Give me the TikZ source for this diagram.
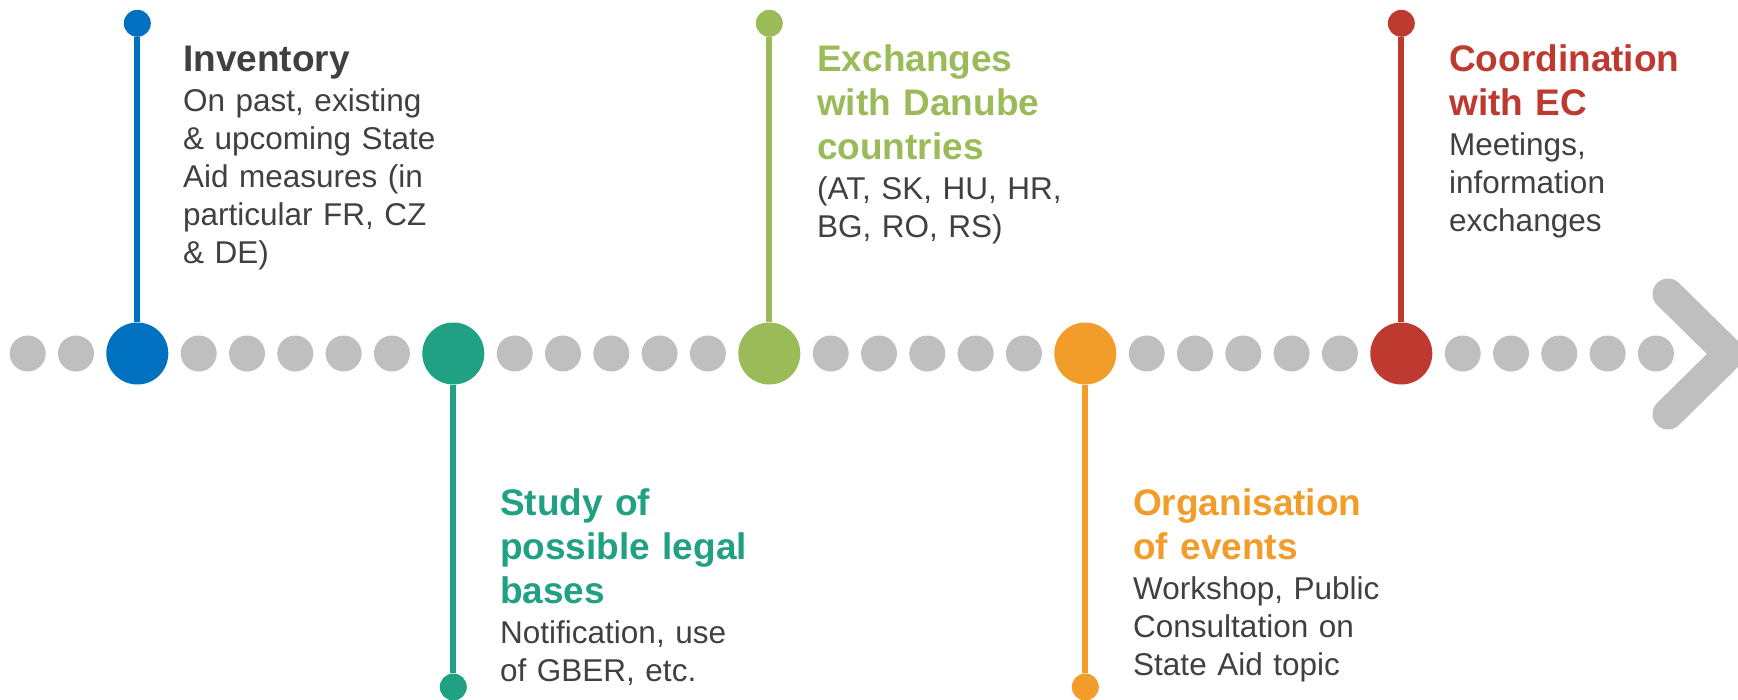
\documentclass[tikz,border=0pt]{standalone}
\usepackage{fontspec}
\setmainfont{Liberation Sans}
\usepackage{tikz}

\definecolor{invblue}{HTML}{0070C0}
\definecolor{legalgreen}{HTML}{20A183}
\definecolor{danolive}{HTML}{9BBB59}
\definecolor{evorange}{HTML}{F29C29}
\definecolor{ecred}{HTML}{BE3A31}
\definecolor{dotgray}{HTML}{BFBFBF}
\definecolor{textgray}{HTML}{404040}

\tikzset{
  bigdot/.style={circle,minimum size=62pt,inner sep=0pt,fill=#1},
  enddot/.style={circle,minimum size=27pt,inner sep=0pt,fill=#1},
  smalldot/.style={circle,minimum size=36pt,inner sep=0pt,fill=dotgray},
  stem/.style={line width=6pt,draw=#1},
  headtext/.style={anchor=base west,inner sep=0pt,text width=330pt,align=left,
    font=\fontsize{37}{44}\selectfont\bfseries,text=#1},
  bodytext/.style={anchor=base west,inner sep=0pt,text width=330pt,align=left,
    font=\fontsize{31.5}{38}\selectfont,text=textgray}
}

\begin{document}
\begin{tikzpicture}[x=1pt,y=-1pt]
  \useasboundingbox (0,0) rectangle (1738,699);
  \clip (0,0) rectangle (1738,699);

  % grey dots along the line
  \foreach \x [count=\i] in {27.7,76} \node[smalldot] (s0-\i) at (\x,353.5) {};
  \foreach \b [count=\j] in {137.3,453.3,769.3,1085.3,1401.3}
    \foreach \k in {0,...,4}
      \node[smalldot] (s\j-\k) at ({\b+61.4+48.3*\k},353.5) {};

  % arrow head
  \coordinate (chevA) at (1668,294);
  \coordinate (chevTip) at (1729,354);
  \coordinate (chevB) at (1668,414);
  \draw[dotgray,line width=31pt,line cap=round] (chevA) -- (chevTip) -- (chevB);

  % milestones
  \node[bigdot=invblue] (inv) at (137.3,353.5) {};
  \node[bigdot=legalgreen] (legal) at (453.3,353.5) {};
  \node[bigdot=danolive] (dan) at (769.3,353.5) {};
  \node[bigdot=evorange] (ev) at (1085.3,353.5) {};
  \node[bigdot=ecred] (ec) at (1401.3,353.5) {};

  \node[enddot=invblue] (invEnd) at (137.3,23.3) {};
  \node[enddot=legalgreen] (legalEnd) at (453.3,687) {};
  \node[enddot=danolive] (danEnd) at (769.3,23.3) {};
  \node[enddot=evorange] (evEnd) at (1085.3,687) {};
  \node[enddot=ecred] (ecEnd) at (1401.3,23.3) {};

  \draw[stem=invblue] (invEnd) -- (inv);
  \draw[stem=legalgreen] (legalEnd) -- (legal);
  \draw[stem=danolive] (danEnd) -- (dan);
  \draw[stem=evorange] (evEnd) -- (ev);
  \draw[stem=ecred] (ecEnd) -- (ec);

  % labels
  \node[headtext=textgray] (invHead) at (183,71) {Inventory};
  \node[bodytext] (invBody) at (183,111) {On past, existing\\ \& upcoming State\\ Aid measures (in\\ particular FR, CZ\\ \& DE)};

  \node[headtext=legalgreen] (legalHead) at (500,515) {Study of\\ possible legal\\ bases};
  \node[bodytext] (legalBody) at (500,643) {Notification, use\\ of GBER, etc.};

  \node[headtext=danolive] (danHead) at (817,71) {Exchanges\\ with Danube\\ countries};
  \node[bodytext] (danBody) at (817,199) {(AT, SK, HU, HR,\\ BG, RO, RS)};

  \node[headtext=evorange] (evHead) at (1133,515) {Organisation\\ of events};
  \node[bodytext] (evBody) at (1133,599) {Workshop, Public\\ Consultation on\\ State Aid topic};

  \node[headtext=ecred] (ecHead) at (1449,71) {Coordination\\ with EC};
  \node[bodytext] (ecBody) at (1449,155) {Meetings,\\ information\\ exchanges};
\end{tikzpicture}
\end{document}
